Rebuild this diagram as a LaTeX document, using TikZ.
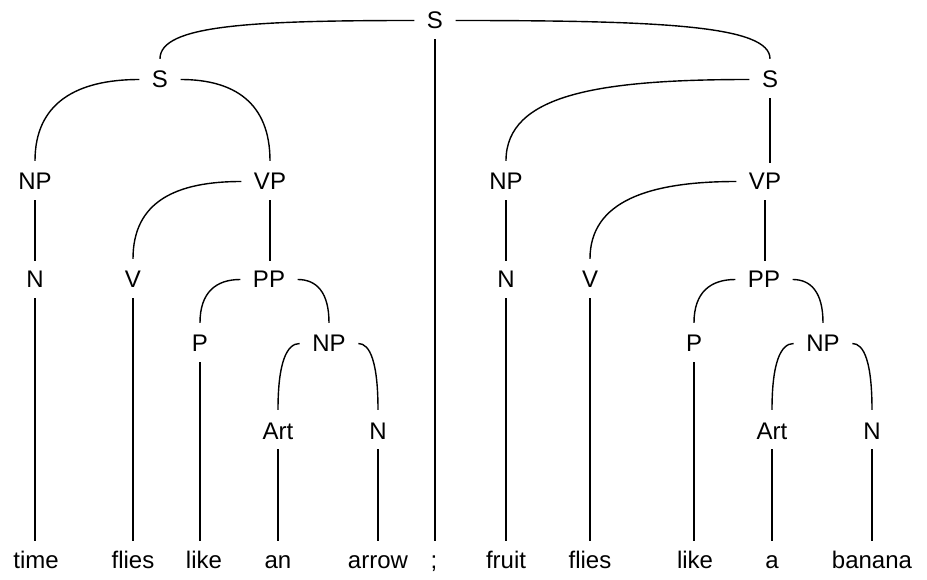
\documentclass[tikz,border=0pt]{standalone}
\usepackage{fontspec}
\setmainfont{Liberation Sans}
\usetikzlibrary{calc}
\tikzset{
  lab/.style={anchor=base, inner xsep=12.5pt, inner ysep=10pt, text height=17pt, text depth=0pt, font=\fontsize{24}{28}\selectfont},
  edge/.style={line width=1.4pt, black},
}
\newcommand\tarc[4]{\draw[edge, shorten >=2pt] let \p1=(#1), \p2=(#2) in (\p1) .. controls ({\x1+#3*(\x2-\x1)},\y1) and (\x2,{\y2+#4*(\y1-\y2)}) .. (\p2);}
\newcommand\tvert[2]{\draw[edge] (#1.south) -- (#1.south |- #2.north);}
\begin{document}
\begin{tikzpicture}[x=1pt,y=-1pt]
\useasboundingbox (0,0) rectangle (927,580);
% nodes
\node[lab] (Stop) at (435,29) {S};
\node[lab] (SL) at (160,88) {S};
\node[lab] (SR) at (770,88) {S};
\node[lab] (NPa) at (35,190) {NP};
\node[lab] (VPa) at (270,190) {VP};
\node[lab] (NPc) at (506,190) {NP};
\node[lab] (VPc) at (765,190) {VP};
\node[lab] (Na) at (35,288) {N};
\node[lab] (Va) at (133,288) {V};
\node[lab] (PPa) at (269,288) {PP};
\node[lab] (Nc) at (506,288) {N};
\node[lab] (Vc) at (590,288) {V};
\node[lab] (PPc) at (764,288) {PP};
\node[lab] (Pa) at (200,352) {P};
\node[lab] (NPb) at (329,352) {NP};
\node[lab] (Pc) at (694,352) {P};
\node[lab] (NPd) at (823,352) {NP};
\node[lab] (Arta) at (278,439) {Art};
\node[lab] (Nb) at (378,439) {N};
\node[lab] (Artc) at (772,439) {Art};
\node[lab] (Nd) at (872,439) {N};
% words
\node[lab] (w1) at (36,568) {time};
\node[lab] (w2) at (133,568) {flies};
\node[lab] (w3) at (204,568) {like};
\node[lab] (w4) at (278,568) {an};
\node[lab] (w5) at (378,568) {arrow};
\node[lab] (w6) at (434,568) {;};
\node[lab] (w7) at (506,568) {fruit};
\node[lab] (w8) at (590,568) {flies};
\node[lab] (w9) at (695,568) {like};
\node[lab] (w10) at (772,568) {a};
\node[lab] (w11) at (872,568) {banana};
% curves
\tarc{Stop.west}{SL.north}{0.65}{0.88}
\tarc{Stop.east}{SR.north}{0.65}{0.88}
\tarc{SL.west}{NPa.north}{0.6}{0.72}
\tarc{SL.east}{VPa.north}{0.6}{0.72}
\tarc{VPa.west}{Va.north}{0.6}{0.75}
\tarc{PPa.west}{Pa.north}{0.6}{0.72}
\tarc{PPa.east}{NPb.north}{0.6}{0.72}
\tarc{NPb.west}{Arta.north}{0.6}{0.72}
\tarc{NPb.east}{Nb.north}{0.6}{0.72}
\tarc{SR.west}{NPc.north}{0.62}{0.82}
\tarc{VPc.west}{Vc.north}{0.6}{0.75}
\tarc{PPc.west}{Pc.north}{0.6}{0.72}
\tarc{PPc.east}{NPd.north}{0.6}{0.72}
\tarc{NPd.west}{Artc.north}{0.6}{0.72}
\tarc{NPd.east}{Nd.north}{0.6}{0.72}
% verticals
\tvert{Stop}{w6}
\tvert{SR}{VPc}
\tvert{NPa}{Na}
\tvert{VPa}{PPa}
\tvert{NPc}{Nc}
\tvert{VPc}{PPc}
\tvert{Na}{w1}
\tvert{Va}{w2}
\tvert{Pa}{w3}
\tvert{Arta}{w4}
\tvert{Nb}{w5}
\tvert{Nc}{w7}
\tvert{Vc}{w8}
\tvert{Pc}{w9}
\tvert{Artc}{w10}
\tvert{Nd}{w11}
\end{tikzpicture}
\end{document}
